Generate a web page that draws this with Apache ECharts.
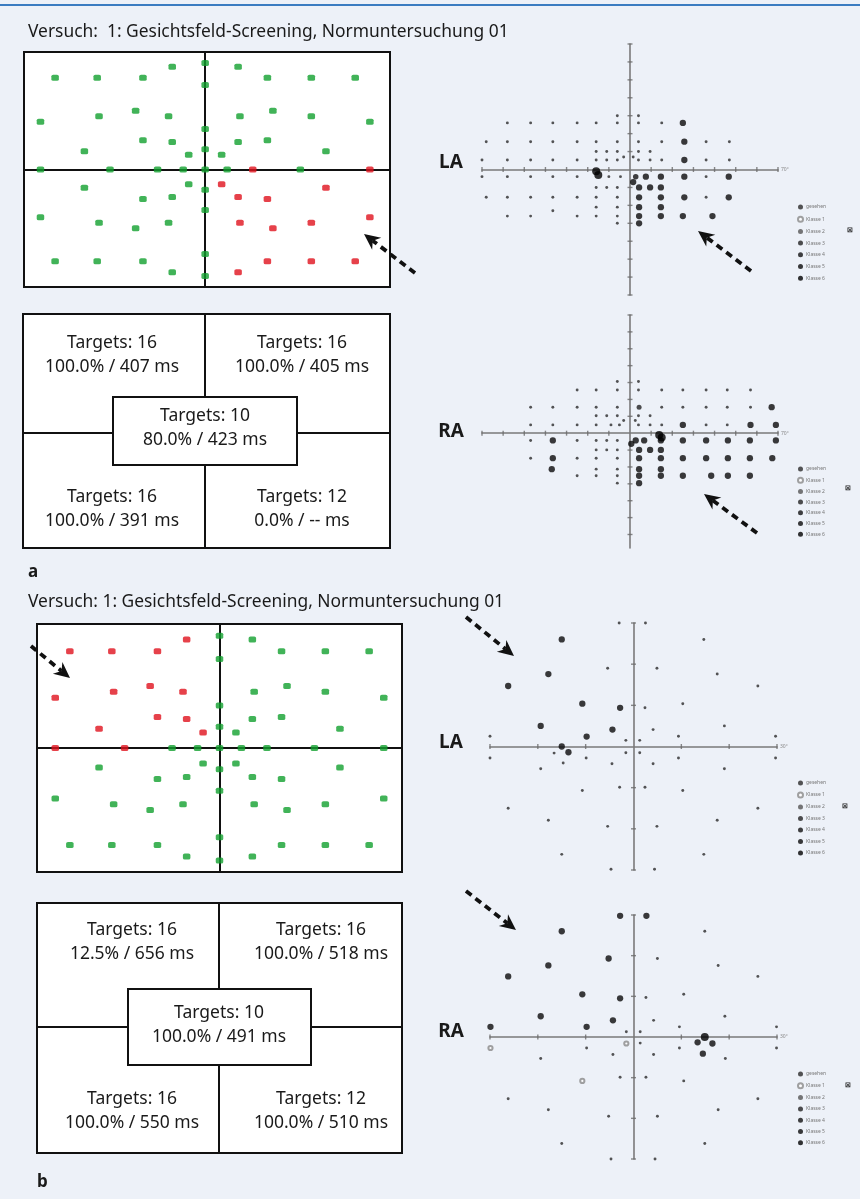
<!DOCTYPE html>
<html><head><meta charset="utf-8">
<script src="https://cdn.jsdelivr.net/npm/echarts/dist/echarts.min.js"></script>
<style>html,body{margin:0;padding:0;background:#edf1f8}#c{width:860px;height:1199px}</style>
</head><body><div id="c"></div>
<script>
// ---------- DATA ----------
const titleA = 'Versuch:  1: Gesichtsfeld-Screening, Normuntersuchung 01';
const titleB = 'Versuch: 1: Gesichtsfeld-Screening, Normuntersuchung 01';

// stimulus positions (screening field, arbitrary degree-like units)
const stimPoints = [
  [-9,28],[0,29],[9,28],
  [-41,25],[-29.5,25],[-17,25],[17,25],[29,25],[41,25],
  [0,23],
  [-45,13],[-29,14.5],[-19,16],[-10,14.5],[9.5,14.5],[18.5,16],[29,14.5],[45,13],
  [0,11],
  [-17,8],[-9,7.5],[9,7.5],[17,8],
  [0,5.5],
  [-33,5],[33,5],
  [-4.5,4],[4.5,4],
  [-45,0],[-26,0],[-13,0],[-6,0],[0,0],[6,0],[13,0],[26,0],[45,0],
  [-4.5,-4],[4.5,-4],[-33,-5],[33,-5],
  [0,-5.5],
  [-17,-8],[-9,-7.5],[9,-7.5],[17,-8],
  [0,-11],
  [-45,-13],[-29,-14.5],[-19,-16],[-10,-14.5],[9.5,-14.5],[18.5,-16],[29,-14.5],[45,-13],
  [0,-23],
  [-41,-25],[-29.5,-25],[-17,-25],[17,-25],[29,-25],[41,-25],
  [-9,-28],[0,-29],[9,-28]
];
const missedA = [[13,0],[45,0],[4.5,-4],[33,-5],[9,-7.5],[17,-8],[9.5,-14.5],[18.5,-16],[29,-14.5],[45,-13],[17,-25],[29,-25],[41,-25],[9,-28]];
const missedB = [[-41,25],[-29.5,25],[-17,25],[-9,28],[-45,13],[-29,14.5],[-19,16],[-10,14.5],[-17,8],[-9,7.5],[-33,5],[-4.5,4],[-45,0],[-26,0]];

// quadrant summaries: TL, TR, BL, BR, centre
const quadA = [['Targets: 16','100.0% / 407 ms'],['Targets: 16','100.0% / 405 ms'],['Targets: 16','100.0% / 391 ms'],['Targets: 12','0.0% / -- ms'],['Targets: 10','80.0% / 423 ms']];
const quadB = [['Targets: 16','12.5% / 656 ms'],['Targets: 16','100.0% / 518 ms'],['Targets: 16','100.0% / 550 ms'],['Targets: 12','100.0% / 510 ms'],['Targets: 10','100.0% / 491 ms']];

// perimetry: seen points [x°,y°], defects [x°,y°,class]
const laA_seen = [
  [-6,30],[4,30],
  [-58,26],[-47,26],[-36.5,26],[-25,26],[-16,26],[-6,26],[4,26],[15,26],
  [-68,15.5],[-58,15.5],[-47,15.5],[-36.5,15.5],[-25,15.5],[-16,15.5],[-6,15.5],[4,15.5],[15,15.5],[36,15.5],[47,15.5],
  [-16,10],[-11,10],[-6,10],[4,10],[9.5,10],
  [-3,7],[1.5,7],
  [-70,5.3],[-58,5.3],[-47,5.3],[-36.5,5.3],[-25,5.3],[-16,5.3],[-11,5.3],[-6,5.3],[4,5.3],[9.5,5.3],[15,5.3],[36,5.3],[47,5.3],
  [-70,-4],[-58,-4],[-47,-4],[-36.5,-4],[-25,-4],[-10,-4],[-4.5,-4],[36,-4],
  [-16,-10],[-11,-10],[-6,-10],
  [-68,-15.5],[-58,-15.5],[-47,-15.5],[-36.5,-15.5],[-25,-15.5],[-16,-15.5],[-6,-15.5],[36,-15.5],
  [-16,-21],[-6,-21],
  [-36.5,-23],
  [-58,-26],[-47,-26],[-25,-26],[-16,-26],[-6,-26],
  [-6,-30]
];
const laA_def = [
  [25,26,5],[25.7,15.5,5],[25.7,5.3,5],[-16,-1,6],[-15,-3,6],
  [2.7,-4,4],[7.5,-4,5],[14.6,-4,5],[25.7,-4,5],[46.7,-4,5],
  [1.5,-7,5],
  [4.3,-10,5],[9.5,-10,5],[14.6,-10,5],
  [4.3,-15.5,5],[14.6,-15.5,5],[25.7,-15.5,5],[46.7,-15.5,5],
  [4.3,-21,5],[14.6,-21,5],
  [4.3,-26,5],[14.6,-26,5],[25,-26,5],[39,-26,5],
  [4.3,-30,5]
];
const raA_seen = [
  [-6,30.6],[4,30.6],
  [-25,25.6],[-16,25.6],[-6,25.6],[4,25.6],[15,25.6],[25,25.6],[36,25.6],[46,25.6],[57,25.6],
  [-47,15.4],[-36.5,15.4],[-25,15.4],[-16,15.4],[-6,15.4],[15,15.4],[25,15.4],[36,15.4],[46,15.4],[57,15.4],
  [-16,10.3],[-11,10.3],[-6,10.3],[4,10.3],[9.5,10.3],
  [-3,7.5],[2.5,7.5],
  [-47,4.9],[-36.5,4.9],[-25,4.9],[-16,4.9],[-9,4.9],[-5,4.9],[4,4.9],[9.5,4.9],[15,4.9],[36,4.9],[46,4.9],
  [-47,-4.3],[-25,-4.3],[-16,-4.3],[-11,-4.3],[-6,-4.3],
  [-16,-9.9],[-11,-9.9],[-6,-9.9],
  [-47,-14.8],[-25,-14.8],[-16,-14.8],[-6,-14.8],
  [-16,-21.3],[-6,-21.3],
  [-25,-25.2],[-16,-25.2],[-6,-25.2],
  [-6,-29.6]
];
const raA_def = [
  [4.3,15.4,3],[67,15.4,5],
  [25,4.9,5],[57,4.9,5],[69,4.9,5],
  [13.8,-1,6],[15,-2.5,6],
  [-36.5,-4.3,5],[2.7,-4.3,5],[6.7,-4.3,5],[14.6,-4.3,5],[25,-4.3,5],[36,-4.3,5],[46.3,-4.3,5],[56.7,-4.3,5],[69,-4.3,5],
  [0.6,-6.3,5],
  [4.3,-9.9,5],[9.5,-9.9,5],[14.6,-9.9,5],
  [-36.5,-14.8,5],[4.3,-14.8,5],[14.6,-14.8,5],[25,-14.8,5],[36,-14.8,5],[46.3,-14.8,5],[56.7,-14.8,5],[67.3,-14.8,5],
  [-37,-21.3,5],[4.3,-21.3,5],[14.6,-21.3,5],
  [4.3,-25.2,5],[14.6,-25.2,5],[25,-25.2,5],[38.4,-25.2,5],[46.3,-25.2,5],[56.7,-25.2,5],
  [4.3,-29.6,5]
];
const laB_seen = [
  [-3,30],[2.5,30],[14.7,26],[-5.4,19],[4.9,19],[17.5,17.6],[26,14.7],[2.4,9.4],[10.3,10.4],[19,5],[4.1,4.1],
  [-30,2.5],[9.4,2.5],[29.7,2.5],[-1.6,1.5],[1.3,1.5],[-16.6,-1.6],[-1.6,-1.5],[1.3,-1.5],
  [-30,-2.8],[-9.9,-2.8],[9.4,-2.8],[29.7,-2.8],[-14.7,-4],[-4.5,-4.2],[4.1,-4.2],[-19.4,-5.4],[19,-5.4],
  [-10.7,-10.7],[-2.9,-9.9],[2.4,-9.9],[10.3,-10.7],[-26.2,-15],[26,-15],[-17.8,-17.9],[17.5,-17.9],
  [-5.4,-19.4],[4.9,-19.4],[-15,-26.2],[14.7,-26.2],[-4.7,-29.8],[4.4,-29.8]
];
const laB_def = [
  [-15,26,5],[-17.8,17.6,5],[-26.2,14.7,5],[-10.7,10.4,5],[-2.8,9.4,5],[-19.4,5,5],[-4.4,4.1,5],[-9.8,2.4,5],[-15,0,5],[-13.6,-1.4,5]
];
const raB_seen = [
  [14.9,26],[5,19.3],[17.7,17.6],[26,14.9],[2.6,9.7],[10.5,10.5],[19.1,5.1],[4.2,4.1],[9.6,2.5],[29.9,2.5],
  [-1.5,1.3],[1.4,1.3],[-9.8,-2.7],[9.6,-2.7],[29.9,-2.7],[1.4,-1.5],[-4.3,-4.3],[4.2,-4.3],[-19.4,-5.3],[19.2,-5.3],
  [-2.8,-9.9],[2.6,-9.9],[10.5,-10.8],[-26.2,-15.2],[26,-15.2],[-17.8,-17.9],[17.7,-17.9],[-5.2,-19.5],[5,-19.5],
  [-15,-26.2],[14.9,-26.2],[-4.7,-30],[4.5,-30]
];
const raB_def = [
  [-29.9,-2.7,1],[-1.5,-1.6,1],[-10.7,-10.8,1],
  [-2.8,29.8,5],[2.7,29.8,5],[-15,26,5],[-5.2,19.3,5],[-17.8,17.6,5],[-26.2,14.9,5],[-10.7,10.5,5],[-2.8,9.5,5],
  [-19.4,5.1,5],[-4.3,4.1,5],[-29.9,2.5,5],[-9.8,2.5,5],[14.9,0,6],[13.4,-1.3,5],[16.5,-1.6,5],[14.5,-4.1,5]
];
const ticks70 = [-70,-60,-50,-40,-30,-20,-10,10,20,30,40,50,60,70];
const ticks30 = [-30,-20,-10,10,20,30];
const legendNames = ['gesehen','Klasse 1','Klasse 2','Klasse 3','Klasse 4','Klasse 5','Klasse 6'];

// ---------- STYLE ----------
const FONT = '"Noto Sans", "Open Sans", sans-serif';
const clsSize = {1:4.2, 2:4.5, 3:5, 4:5.5, 5:6.3, 6:8};
const clsColor = {1:'#8a8a8a', 2:'#555', 3:'#222', 4:'#111', 5:'#0a0a0a', 6:'#000'};

const chart = echarts.init(document.getElementById('c'), null, {renderer:'canvas'});

const grids = [
  {left:24, top:52, width:366, height:235},
  {left:37, top:624, width:365, height:248},
  {left:482, top:44, width:296, height:251},
  {left:482, top:315, width:296, height:233},
  {left:490, top:623, width:287, height:247},
  {left:490, top:915, width:287, height:244}
];
const xr = [[-49.5,50.5],[-50,50],[-70,70],[-70,70],[-30,30],[-30,30]];
const yr = [[-32,32],[-32,32],[-70,70],[-68,70],[-30,30],[-30,30]];
const endName = ['', '', '70°','70°','30°','30°'];

const gridOpt = grids.map((g,i)=> i<2
  ? Object.assign({show:true, backgroundColor:'#fff', borderColor:'#111', borderWidth:2}, g)
  : Object.assign({show:false}, g));

const xAxes = grids.map((g,i)=>({
  gridIndex:i, type:'value', min:xr[i][0], max:xr[i][1],
  axisLine:{show:true, onZero:true, lineStyle: i<2 ? {color:'#111', width:2} : {color:'#7a7a7a', width:1.6}},
  axisTick:{show:false}, axisLabel:{show:false}, splitLine:{show:false},
  name:endName[i], nameLocation:'end', nameGap:3, nameTextStyle:{fontSize:5, color:'#888'}
}));
const yAxes = grids.map((g,i)=>({
  gridIndex:i, type:'value', min:yr[i][0], max:yr[i][1],
  axisLine:{show:true, onZero:true, lineStyle: i<2 ? {color:'#111', width:2} : {color:'#7a7a7a', width:1.6}},
  axisTick:{show:false}, axisLabel:{show:false}, splitLine:{show:false}
}));

const series = [];
function stimSeries(gi, missed){
  const isMissed = p => missed.some(m => m[0]===p[0] && m[1]===p[1]);
  series.push({type:'scatter', xAxisIndex:gi, yAxisIndex:gi, silent:true, z:3,
    data: stimPoints.filter(p=>!isMissed(p)), symbol:'roundRect', symbolSize:[7.5,6], itemStyle:{color:'#12a02e'}});
  series.push({type:'scatter', xAxisIndex:gi, yAxisIndex:gi, silent:true, z:3,
    data: stimPoints.filter(p=>isMissed(p)), symbol:'roundRect', symbolSize:[7.5,6], itemStyle:{color:'#e0111d'}});
}
function periSeries(gi, seen, defects, ticks){
  series.push({type:'scatter', xAxisIndex:gi, yAxisIndex:gi, silent:true, z:1,
    data: ticks.map(v=>[v,0]), symbol:'rect', symbolSize:[1.4,5], itemStyle:{color:'#6a6a6a'}});
  series.push({type:'scatter', xAxisIndex:gi, yAxisIndex:gi, silent:true, z:1,
    data: ticks.filter(v=>v>=yr[gi][0]).map(v=>[0,v]), symbol:'rect', symbolSize:[5,1.4], itemStyle:{color:'#6a6a6a'}});
  series.push({type:'scatter', name:'gesehen', xAxisIndex:gi, yAxisIndex:gi, silent:true, z:3,
    data: seen, symbol:'circle', symbolSize:2.9, itemStyle:{color:'#2a2a2a'}});
  for (let k=1;k<=6;k++){
    series.push({type:'scatter', name:'Klasse '+k, xAxisIndex:gi, yAxisIndex:gi, silent:true, z:4,
      data: defects.filter(d=>d[2]===k).map(d=>[d[0],d[1]]),
      symbol: k===1 ? 'emptyCircle' : 'circle', symbolSize: clsSize[k],
      itemStyle:{color:clsColor[k], borderWidth: k===1?1:0}});
  }
}
stimSeries(0, missedA);
stimSeries(1, missedB);
periSeries(2, laA_seen, laA_def, ticks70);
periSeries(3, raA_seen, raA_def, ticks70);
periSeries(4, laB_seen, laB_def, ticks30);
periSeries(5, raB_seen, raB_def, ticks30);

const legendPos = [[797,204,5.7],[797,466,4.7],[797,780,5.5],[797,1071,5.3]];
const legends = legendPos.map(p=>({
  left:p[0], top:p[1], orient:'vertical', itemWidth:5, itemHeight:5, itemGap:p[2], padding:0,
  selectedMode:false, data:legendNames,
  textStyle:{fontSize:5, color:'#777', fontFamily:FONT, padding:[0,0,0,-2], lineHeight:6}
}));

// ---------- GRAPHIC (text, boxes, arrows) ----------
const G = [];
function txt(x,y,t,size,weight,align){
  G.push({type:'text', x:x, y:y, z:10, silent:true, style:{text:t, fill:'#1a1a1a', fontSize:size, fontFamily:FONT,
    fontWeight:weight||'normal', align:align||'center', textAlign:align||'center', verticalAlign:'middle', textVerticalAlign:'middle'}});
}
function quad(b, q){
  G.push({type:'rect', z:5, silent:true, shape:{x:b.l, y:b.t, width:b.r-b.l, height:b.b-b.t}, style:{fill:'#fff', stroke:'#111', lineWidth:2}});
  G.push({type:'line', z:6, silent:true, shape:{x1:b.cx, y1:b.t, x2:b.cx, y2:b.b}, style:{stroke:'#111', lineWidth:2}});
  G.push({type:'line', z:6, silent:true, shape:{x1:b.l, y1:b.cy, x2:b.r, y2:b.cy}, style:{stroke:'#111', lineWidth:2}});
  G.push({type:'rect', z:7, silent:true, shape:{x:b.cl, y:b.ct, width:b.cr-b.cl, height:b.cb-b.ct}, style:{fill:'#fff', stroke:'#111', lineWidth:2}});
  const pos = [[b.tx1,b.ty1],[b.tx2,b.ty1],[b.tx1,b.ty2],[b.tx2,b.ty2],[b.cx,b.ty0]];
  q.forEach((lines,i)=>{
    txt(pos[i][0], pos[i][1], lines[0], 17.5);
    txt(pos[i][0], pos[i][1]+24, lines[1], 17.5);
  });
}
function arrow(x1,y1,x2,y2){
  const dx=x2-x1, dy=y2-y1, len=Math.hypot(dx,dy), ux=dx/len, uy=dy/len, px=-uy, py=ux;
  const L=16, W=7.5, N=11;
  G.push({type:'line', z:10, silent:true, shape:{x1:x1, y1:y1, x2:x2-ux*N, y2:y2-uy*N},
    style:{stroke:'#111', lineWidth:3.8, lineDash:[7,5]}});
  G.push({type:'polygon', z:10, silent:true, shape:{points:[
    [x2,y2],[x2-ux*L+px*W, y2-uy*L+py*W],[x2-ux*N, y2-uy*N],[x2-ux*L-px*W, y2-uy*L-py*W]]},
    style:{fill:'#111'}});
}

G.push({type:'line', z:1, silent:true, shape:{x1:0,y1:5,x2:860,y2:5}, style:{stroke:'#3b7cc1', lineWidth:2}});
txt(28, 32, titleA, 17.4, 'normal', 'left');
txt(28, 602, titleB, 17.4, 'normal', 'left');
quad({l:23,r:390,t:314,b:548,cx:205,cy:433,cl:113,cr:297,ct:397,cb:465,tx1:112,tx2:302,ty1:343,ty2:497,ty0:416}, quadA);
quad({l:37,r:402,t:903,b:1153,cx:219,cy:1027,cl:128,cr:311,ct:989,cb:1065,tx1:132,tx2:321,ty1:930,ty2:1099,ty0:1013}, quadB);
txt(28, 572, 'a', 17, 'bold', 'left');
txt(37, 1182, 'b', 17, 'bold', 'left');
txt(451, 163, 'LA', 19, 'bold');
txt(451, 432, 'RA', 19, 'bold');
txt(451, 743, 'LA', 19, 'bold');
txt(451, 1032, 'RA', 19, 'bold');
arrow(415,273,364,234);
arrow(31,646,70,678);
arrow(751,271,698,231);
arrow(757,533,704,494);
arrow(466,617,514,656);
arrow(466,891,516,930);
[[850,230],[848,488],[845,806],[848,1085]].forEach(p=>{
  G.push({type:'text', x:p[0], y:p[1], z:10, silent:true, style:{text:'⊠', fill:'#222', fontSize:7, fontWeight:'bold', fontFamily:'DejaVu Sans', align:'center', verticalAlign:'middle'}});
});

chart.setOption({
  backgroundColor:'#edf1f8',
  animation:false,
  textStyle:{fontFamily:FONT},
  grid:gridOpt, xAxis:xAxes, yAxis:yAxes, series:series, legend:legends, graphic:G
});
</script></body></html>
